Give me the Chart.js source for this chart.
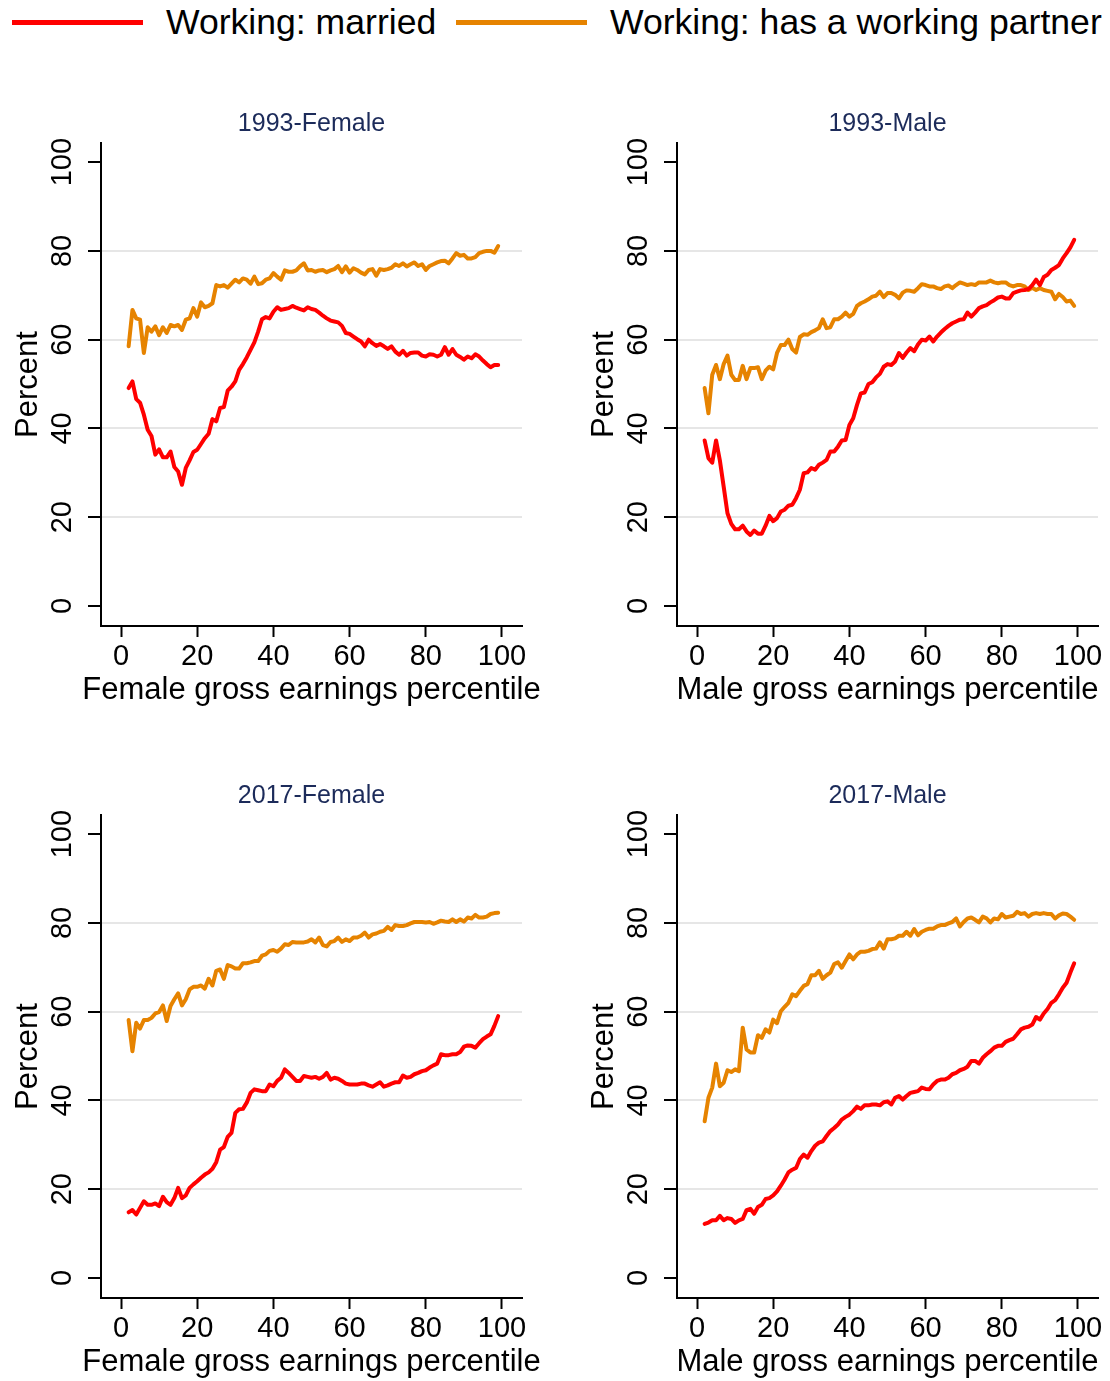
<!DOCTYPE html>
<html>
<head>
<meta charset="utf-8">
<script src="https://cdn.jsdelivr.net/npm/chart.js@4"></script>
<style>
  body { margin: 0; background: #fff; overflow: hidden; width: 1110px; height: 1381px; position: relative; font-family: "Liberation Sans", Arial, sans-serif; }
  canvas { position: absolute; }
  .sw { position: absolute; top: 20px; height: 5px; }
  .lt { position: absolute; top: 5px; font-size: 35.6px; line-height: 35px; color: #000; white-space: nowrap; }
</style>
</head>
<body>
<span class="sw" style="left:12px;width:131px;background:#ff0000"></span>
<span class="lt" style="left:166px">Working: married</span>
<span class="sw" style="left:456px;width:131px;background:#e68300"></span>
<span class="lt" style="left:610px">Working: has a working partner</span>

<canvas id="c1" width="560" height="614" style="left:0;top:95px"></canvas>
<canvas id="c2" width="534" height="614" style="left:576px;top:95px"></canvas>
<canvas id="c3" width="560" height="614" style="left:0;top:767px"></canvas>
<canvas id="c4" width="534" height="614" style="left:576px;top:767px"></canvas>

<script>
// earnings percentiles on the x axis
const pct = [2, 3, 4, 5, 6, 7, 8, 9, 10, 11, 12, 13, 14, 15, 16, 17, 18, 19, 20, 21,
  22, 23, 24, 25, 26, 27, 28, 29, 30, 31, 32, 33, 34, 35, 36, 37, 38, 39, 40, 41,
  42, 43, 44, 45, 46, 47, 48, 49, 50, 51, 52, 53, 54, 55, 56, 57, 58, 59, 60, 61,
  62, 63, 64, 65, 66, 67, 68, 69, 70, 71, 72, 73, 74, 75, 76, 77, 78, 79, 80, 81,
  82, 83, 84, 85, 86, 87, 88, 89, 90, 91, 92, 93, 94, 95, 96, 97, 98, 99];

const xTicks = [0, 20, 40, 60, 80, 100];
const yTicks = [0, 20, 40, 60, 80, 100];

// 1993 - Female
const f93Married = [49.1, 50.6, 46.6, 45.8, 43.1, 39.7, 38.3, 34.1, 35.3, 33.5,
  33.5, 34.8, 31.3, 30.3, 27.3, 31.1, 32.8, 34.7, 35.2, 36.5,
  37.8, 38.8, 42.1, 41.6, 44.6, 44.8, 48.5, 49.4, 50.6, 53.2,
  54.5, 56.0, 57.7, 59.4, 61.8, 64.6, 65.1, 64.8, 66.3, 67.3,
  66.7, 66.9, 67.1, 67.6, 67.2, 66.9, 66.6, 67.3, 66.9, 66.7,
  66.1, 65.4, 64.8, 64.3, 64.1, 63.9, 63.1, 61.5, 61.3, 60.7,
  60.1, 59.6, 58.5, 60.0, 59.2, 58.6, 59.0, 58.5, 57.9, 58.5,
  57.3, 56.6, 57.5, 56.4, 57.0, 57.1, 57.1, 56.4, 56.2, 56.7,
  56.6, 56.2, 56.6, 58.3, 56.6, 57.9, 56.6, 56.1, 55.5, 56.2,
  55.8, 56.7, 56.2, 55.3, 54.5, 53.8, 54.3, 54.3];
const f93Partner = [58.5, 66.7, 64.8, 64.5, 57.0, 62.8, 61.8, 63.0, 61.0, 62.8,
  61.5, 63.3, 63.0, 63.3, 62.2, 64.5, 64.8, 67.1, 65.2, 68.4,
  67.3, 67.6, 68.2, 72.3, 72.0, 72.3, 71.7, 72.6, 73.5, 72.9,
  73.8, 73.5, 72.6, 74.2, 72.5, 72.7, 73.5, 73.8, 75.0, 74.2,
  73.5, 75.6, 75.3, 75.3, 75.6, 76.5, 77.2, 75.6, 75.7, 75.3,
  75.6, 75.7, 75.2, 75.6, 75.9, 76.6, 75.2, 76.5, 75.1, 76.1,
  75.7, 75.1, 74.7, 75.7, 75.9, 74.4, 75.9, 75.7, 75.9, 76.2,
  77.0, 76.6, 77.2, 76.5, 77.0, 77.4, 76.6, 77.0, 75.7, 76.6,
  77.0, 77.4, 77.7, 77.8, 77.2, 78.3, 79.5, 78.9, 79.1, 78.3,
  78.3, 78.6, 79.5, 79.8, 80.0, 80.0, 79.6, 81.1];

// 1993 - Male
const m93Married = [37.3, 33.3, 32.3, 37.3, 32.8, 26.9, 20.9, 18.5, 17.3, 17.3,
  18.1, 16.8, 16.0, 17.0, 16.3, 16.3, 18.1, 20.3, 19.1, 19.8,
  21.3, 21.7, 22.6, 22.8, 24.3, 26.2, 29.9, 30.1, 31.1, 30.7,
  31.8, 32.3, 32.9, 34.8, 34.8, 35.9, 37.3, 37.4, 40.8, 42.3,
  45.3, 47.9, 48.1, 50.0, 50.4, 51.5, 52.3, 53.9, 54.5, 54.3,
  55.1, 57.0, 55.9, 57.1, 58.1, 57.4, 58.9, 60.0, 59.8, 60.7,
  59.6, 60.7, 61.6, 62.4, 63.1, 63.7, 64.1, 64.5, 64.6, 66.1,
  65.2, 66.1, 67.1, 67.5, 67.8, 68.4, 68.9, 69.5, 69.7, 69.3,
  69.3, 70.5, 70.8, 71.1, 71.2, 71.4, 72.3, 73.5, 72.3, 74.1,
  74.6, 75.7, 76.2, 76.8, 78.3, 79.5, 80.8, 82.5];
const m93Partner = [49.1, 43.4, 52.1, 54.3, 51.1, 54.5, 56.4, 52.1, 50.9, 50.9,
  54.1, 51.1, 53.6, 53.6, 53.8, 51.1, 53.0, 53.9, 53.3, 57.0,
  58.8, 58.8, 60.0, 57.9, 57.1, 60.6, 61.2, 61.1, 61.7, 62.1,
  62.6, 64.6, 62.6, 62.8, 64.6, 64.6, 65.2, 66.1, 65.2, 65.8,
  67.6, 68.2, 68.6, 69.1, 69.7, 69.9, 70.8, 69.6, 70.5, 70.5,
  70.1, 69.3, 70.6, 71.1, 71.0, 70.8, 71.6, 72.5, 72.3, 72.0,
  72.0, 71.6, 71.4, 72.0, 72.2, 71.6, 72.3, 72.9, 72.6, 72.3,
  72.5, 72.3, 72.9, 72.9, 72.9, 73.3, 72.9, 72.7, 72.9, 72.9,
  72.3, 72.0, 72.3, 72.3, 72.0, 71.2, 71.7, 71.2, 71.6, 71.2,
  71.0, 70.8, 69.1, 70.3, 69.6, 68.6, 68.8, 67.6];

// 2017 - Female
const f17Married = [14.8, 15.3, 14.3, 15.8, 17.3, 16.5, 16.5, 16.8, 16.2, 18.3,
  17.1, 16.5, 18.0, 20.3, 18.0, 18.6, 20.3, 21.1, 21.8, 22.6,
  23.3, 23.8, 24.6, 26.1, 28.9, 29.5, 31.8, 32.7, 37.2, 38.0,
  38.1, 39.5, 41.7, 42.5, 42.3, 42.1, 42.1, 43.6, 43.2, 44.4,
  45.1, 47.0, 46.2, 45.3, 44.4, 44.4, 45.5, 45.3, 45.1, 45.3,
  44.9, 45.3, 46.2, 44.7, 45.1, 44.9, 44.4, 43.8, 43.6, 43.6,
  43.6, 43.8, 43.8, 43.4, 43.1, 43.6, 44.1, 43.1, 43.4, 43.8,
  44.1, 44.1, 45.6, 45.1, 45.3, 45.9, 46.2, 46.6, 46.8, 47.4,
  47.9, 48.3, 50.4, 50.2, 50.2, 50.4, 50.4, 50.9, 52.1, 52.4,
  52.3, 51.9, 52.9, 53.8, 54.4, 54.9, 56.8, 59.0];
const f17Partner = [58.1, 51.1, 57.5, 56.2, 58.1, 58.1, 58.6, 59.6, 59.9, 61.4,
  57.9, 61.3, 62.8, 64.1, 61.4, 62.8, 65.0, 65.6, 65.6, 65.9,
  65.2, 67.4, 65.9, 69.2, 69.5, 67.4, 70.5, 70.2, 69.7, 69.7,
  70.9, 70.9, 71.1, 71.4, 71.4, 72.6, 72.9, 73.7, 73.9, 73.5,
  74.2, 75.2, 75.0, 75.7, 75.6, 75.6, 75.6, 75.8, 76.3, 75.6,
  76.7, 75.0, 74.7, 75.7, 75.9, 76.7, 75.7, 76.3, 75.9, 76.7,
  76.7, 77.1, 77.8, 76.7, 77.4, 77.6, 78.0, 78.2, 79.1, 78.4,
  79.5, 79.3, 79.3, 79.5, 79.9, 80.2, 80.2, 80.2, 80.1, 80.2,
  79.8, 80.1, 80.5, 80.3, 80.2, 80.8, 80.2, 80.8, 80.3, 81.2,
  81.0, 81.8, 81.2, 81.2, 81.4, 82.0, 82.2, 82.3];

// 2017 - Male
const m17Married = [12.2, 12.5, 13.0, 13.0, 14.0, 13.0, 13.5, 13.3, 12.4, 13.0,
  13.3, 15.3, 15.6, 14.5, 16.0, 16.5, 17.8, 18.0, 18.6, 19.5,
  20.8, 22.2, 23.8, 24.4, 24.8, 26.8, 27.8, 27.1, 28.6, 29.8,
  30.5, 30.8, 32.0, 33.1, 33.8, 34.6, 35.7, 36.3, 36.8, 37.6,
  38.6, 38.1, 38.9, 38.9, 39.1, 39.1, 38.9, 39.6, 39.8, 39.1,
  40.6, 41.0, 40.2, 41.0, 41.7, 41.9, 42.1, 42.9, 42.6, 42.5,
  43.6, 44.4, 44.7, 44.7, 45.1, 45.9, 46.2, 46.8, 47.1, 47.6,
  48.9, 48.9, 48.3, 49.6, 50.4, 51.1, 51.9, 52.3, 52.3, 53.2,
  53.6, 53.9, 54.9, 56.0, 56.4, 56.6, 57.1, 58.8, 58.2, 59.6,
  60.6, 62.0, 62.6, 63.9, 65.4, 66.5, 68.8, 70.9];
const m17Partner = [35.3, 40.6, 42.9, 48.3, 43.2, 44.0, 46.8, 46.4, 47.0, 46.6,
  56.4, 51.5, 50.8, 50.8, 54.7, 54.1, 56.0, 55.3, 58.2, 57.4,
  60.1, 61.1, 62.0, 63.9, 63.5, 64.7, 65.8, 66.2, 68.2, 68.2,
  69.2, 67.4, 68.2, 68.8, 70.7, 71.1, 69.9, 71.4, 72.9, 71.8,
  72.9, 73.5, 73.5, 73.7, 74.1, 74.2, 75.6, 74.2, 76.3, 76.3,
  76.5, 77.1, 77.1, 78.0, 77.1, 78.6, 77.2, 78.0, 78.4, 78.7,
  78.7, 79.2, 79.5, 79.5, 79.9, 80.2, 81.0, 79.2, 80.2, 81.0,
  81.2, 80.7, 80.1, 81.4, 81.0, 80.1, 81.0, 80.8, 82.0, 81.2,
  81.4, 81.6, 82.5, 82.0, 82.2, 81.4, 82.0, 82.2, 82.0, 82.2,
  82.0, 82.0, 81.0, 81.7, 82.1, 82.0, 81.4, 80.7];

const RED = '#ff0000';
const ORANGE = '#e68300';
const FONT = '"Liberation Sans", Arial, sans-serif';

function toXY(vals) {
  return pct.map((p, i) => ({ x: p, y: vals[i] }));
}

// panel title, x title (not squeezed) and rotated y tick labels, stata style
const panelDecor = {
  id: 'panelDecor',
  afterDraw(chart, args, opts) {
    const ctx = chart.ctx;
    const area = chart.chartArea;
    const yScale = chart.scales.y;
    const midX = (area.left + area.right) / 2;
    ctx.save();
    ctx.textAlign = 'center';
    ctx.textBaseline = 'middle';

    ctx.fillStyle = '#1c2b5a';
    ctx.font = '25px ' + FONT;
    ctx.fillText(opts.text, midX, area.top - 19);

    ctx.fillStyle = '#000';
    ctx.font = '31px ' + FONT;
    ctx.fillText(opts.xTitle, midX, area.bottom + 64);

    ctx.font = '29px ' + FONT;
    yTicks.forEach(v => {
      ctx.save();
      ctx.translate(area.left - 38, yScale.getPixelForValue(v));
      ctx.rotate(-Math.PI / 2);
      ctx.fillText(String(v), 0, 0);
      ctx.restore();
    });
    ctx.restore();
  }
};

function makePanel(id, title, xTitle, married, partner, padRight) {
  new Chart(document.getElementById(id), {
    type: 'line',
    data: {
      datasets: [
        { label: 'Working: married', data: toXY(married), borderColor: RED,
          borderWidth: 4, pointRadius: 0, tension: 0, borderJoinStyle: 'round', borderCapStyle: 'round' },
        { label: 'Working: has a working partner', data: toXY(partner), borderColor: ORANGE,
          borderWidth: 4, pointRadius: 0, tension: 0, borderJoinStyle: 'round', borderCapStyle: 'round' }
      ]
    },
    options: {
      responsive: false,
      animation: false,
      layout: { padding: { top: 48, right: padRight, left: 0, bottom: 0 } },
      plugins: {
        legend: { display: false },
        tooltip: { enabled: false },
        panelDecor: { text: title, xTitle: xTitle }
      },
      scales: {
        x: {
          type: 'linear',
          min: -5.25,
          max: 105.25,
          afterBuildTicks: s => { s.ticks = xTicks.map(v => ({ value: v })); },
          afterFit: s => { s.height = 83; },
          grid: { drawOnChartArea: false, tickLength: 11, tickColor: '#000', tickWidth: 2 },
          border: { display: true, color: '#000', width: 2 },
          ticks: { font: { family: FONT, size: 29 }, color: '#000', padding: 3, autoSkip: false, maxRotation: 0 },
          title: { display: false }
        },
        y: {
          type: 'linear',
          min: -4.5,
          max: 104.3,
          afterBuildTicks: s => { s.ticks = yTicks.map(v => ({ value: v })); },
          afterFit: s => { s.width = 101; },
          grid: {
            color: c => (c.tick && (c.tick.value === 0 || c.tick.value === 100)) ? 'rgba(0,0,0,0)' : '#e6e6e6',
            lineWidth: 2,
            tickLength: 13,
            tickColor: '#000',
            tickWidth: 2
          },
          border: { display: true, color: '#000', width: 2 },
          ticks: { display: false },
          title: { display: true, text: 'Percent', font: { family: FONT, size: 31 }, color: '#000', padding: { top: 10, bottom: 0 } }
        }
      }
    },
    plugins: [panelDecor]
  });
}

makePanel('c1', '1993-Female', 'Female gross earnings percentile', f93Married, f93Partner, 38);
makePanel('c2', '1993-Male', 'Male gross earnings percentile', m93Married, m93Partner, 12);
makePanel('c3', '2017-Female', 'Female gross earnings percentile', f17Married, f17Partner, 38);
makePanel('c4', '2017-Male', 'Male gross earnings percentile', m17Married, m17Partner, 12);
</script>
</body>
</html>
